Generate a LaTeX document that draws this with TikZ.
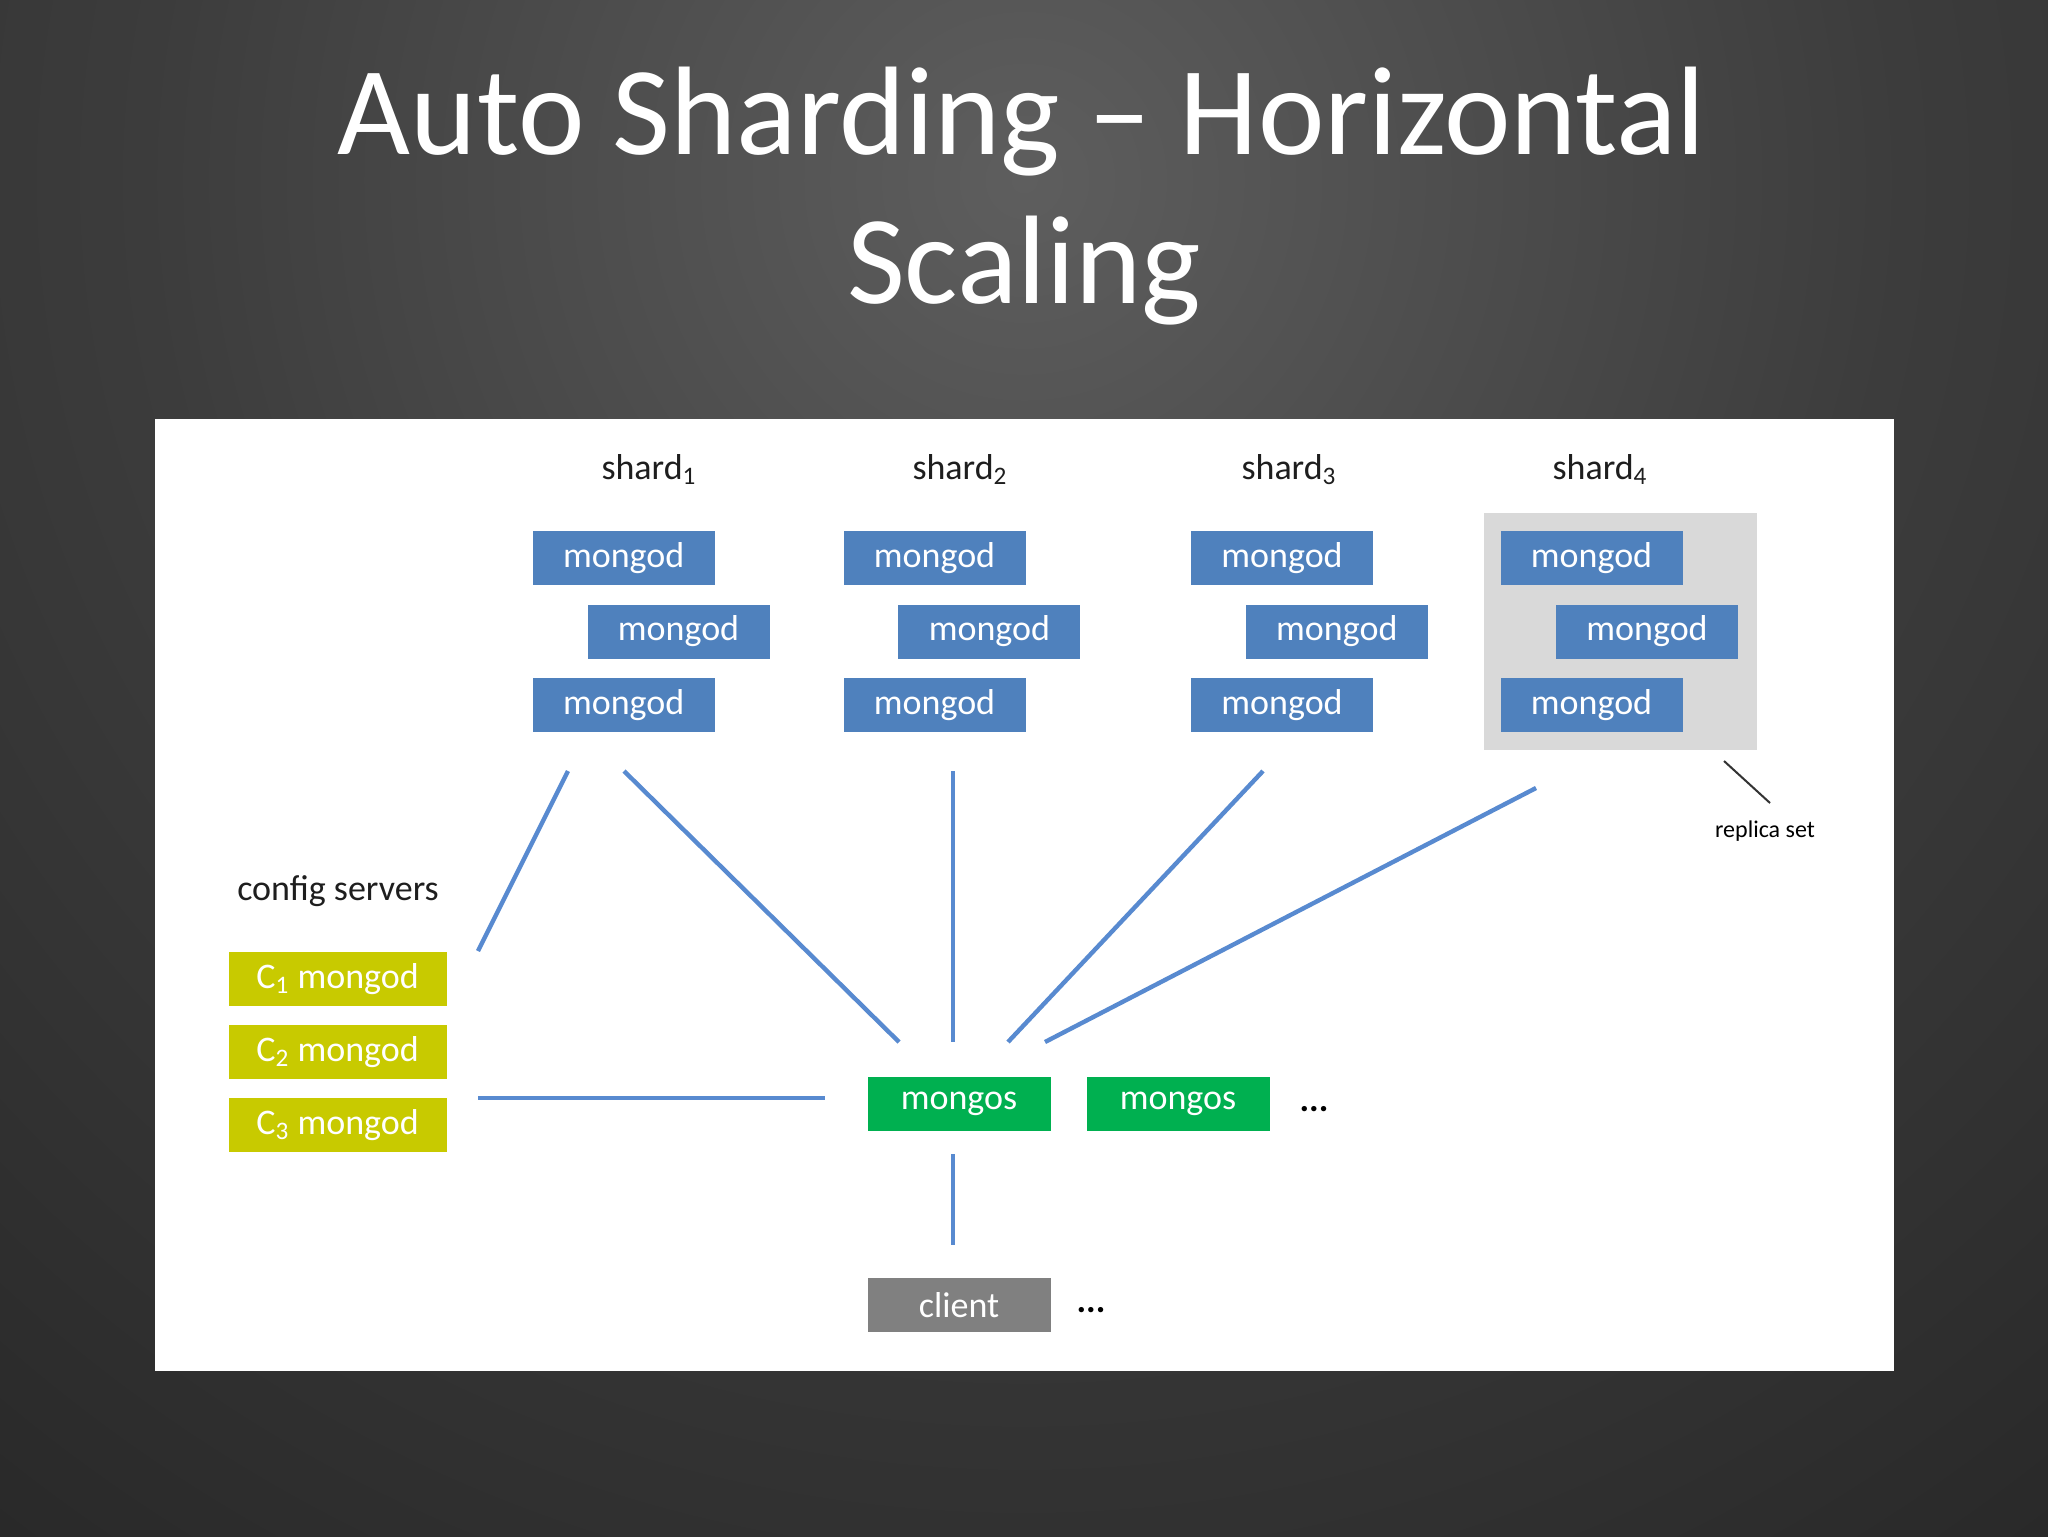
\documentclass[tikz,border=0pt]{standalone}
\usepackage{fontspec}
\setmainfont{Carlito}
\definecolor{mblue}{RGB}{79,129,189}
\definecolor{lblue}{RGB}{88,138,208}
\definecolor{cgreen}{RGB}{0,176,80}
\definecolor{cyel}{RGB}{200,202,0}
\definecolor{cgray}{RGB}{128,128,128}
\definecolor{rsgray}{RGB}{217,217,217}
\definecolor{bgA}{RGB}{94,94,94}
\definecolor{bgB}{RGB}{60,60,60}
\definecolor{bgC}{RGB}{34,34,34}
\definecolor{labtext}{RGB}{30,30,30}
\pgfdeclareradialshading{slidebg}{\pgfpoint{0bp}{0bp}}{color(0bp)=(bgA); color(11bp)=(bgB); color(25bp)=(bgC); color(50bp)=(bgC)}
\newcommand\boxfont{\fontsize{18}{21}\selectfont}
\newcommand\titlefont{\fontsize{63}{70}\selectfont}
\begin{document}
\begin{tikzpicture}[x=0.5pt,y=-0.5pt,
  mgd/.style={fill=mblue, text=white, font=\boxfont, minimum width=91pt, minimum height=27pt, inner sep=0pt},
  cfg/.style={fill=cyel, text=white, font=\boxfont, minimum width=109pt, minimum height=27pt, inner sep=0pt},
  msb/.style={fill=cgreen, text=white, font=\boxfont, minimum width=91.5pt, minimum height=27pt, inner sep=0pt},
  clb/.style={fill=cgray, text=white, font=\boxfont, minimum width=91.5pt, minimum height=27pt, inner sep=0pt},
  lab/.style={text=labtext, font=\boxfont, anchor=base, inner sep=0pt},
  dotsl/.style={text=black, font=\boxfont\bfseries, anchor=base, inner sep=0pt},
  link/.style={draw=lblue, line width=2.2pt},
  ptr/.style={draw=black!80, line width=1pt}]
\useasboundingbox (0,0) rectangle (2048,1536);
\begin{scope}
  \clip (0,0) rectangle (2048,1536);
  \fill[bgC] (0,0) rectangle (2048,1536);
  \shade[shading=slidebg] (1024,180) circle[radius=1000pt];
\end{scope}
% title
\node[text=white, font=\titlefont, anchor=base, inner sep=0pt] (t1) at (1022,155) {Auto Sharding – Horizontal};
\node[text=white, font=\titlefont, anchor=base, inner sep=0pt] (t2) at (1024,303) {Scaling};
% panel
\node[fill=white, minimum width=869.5pt, minimum height=476pt, inner sep=0pt] (panel) at (1024.5,895) {};
% replica set background
\node[fill=rsgray, minimum width=136.5pt, minimum height=118.2pt, inner sep=0pt] (rs) at (1620.2,631.5) {};
% shard labels
\node[lab] (h1) at (649,479) {shard\textsubscript{1}};
\node[lab] (h2) at (960,479) {shard\textsubscript{2}};
\node[lab] (h3) at (1289,479) {shard\textsubscript{3}};
\node[lab] (h4) at (1600,479) {shard\textsubscript{4}};
% shards
\node[mgd] (s1a) at (623.7,558.4) {mongod};
\node[mgd] (s1b) at (678.5,631.5) {mongod};
\node[mgd] (s1c) at (623.7,704.6) {mongod};
\node[mgd] (s2a) at (934.5,558.4) {mongod};
\node[mgd] (s2b) at (989.4,631.5) {mongod};
\node[mgd] (s2c) at (934.5,704.6) {mongod};
\node[mgd] (s3a) at (1282,558.4) {mongod};
\node[mgd] (s3b) at (1336.8,631.5) {mongod};
\node[mgd] (s3c) at (1282,704.6) {mongod};
\node[mgd] (s4a) at (1591.5,558.4) {mongod};
\node[mgd] (s4b) at (1647,631.5) {mongod};
\node[mgd] (s4c) at (1591.5,704.6) {mongod};
% replica set label
\node[text=black, font=\fontsize{12}{14}\selectfont, anchor=base, inner sep=0pt] (rsl) at (1765,837) {replica set};
% config servers
\node[lab] (cfgl) at (338,900) {config servers};
\node[cfg] (c1) at (337.6,979) {C\textsubscript{1} mongod};
\node[cfg] (c2) at (337.6,1052) {C\textsubscript{2} mongod};
\node[cfg] (c3) at (337.6,1125) {C\textsubscript{3} mongod};
% mongos
\node[msb] (m1) at (959,1103.5) {mongos};
\node[msb] (m2) at (1178,1103.5) {mongos};
\node[dotsl] (d1) at (1314,1111) {...};
% client
\node[clb] (cl) at (959,1305) {client};
\node[dotsl] (d2) at (1091,1312) {...};
% connector end points
\coordinate (a1) at (568,771);  \coordinate (b1) at (478,951);
\coordinate (a2) at (624,771);  \coordinate (b2) at (899,1042);
\coordinate (a3) at (953,771);  \coordinate (b3) at (953,1042);
\coordinate (a4) at (1263,771); \coordinate (b4) at (1008,1042);
\coordinate (a5) at (1536,788); \coordinate (b5) at (1045,1042);
\coordinate (a6) at (478,1098); \coordinate (b6) at (825,1098);
\coordinate (a7) at (953,1154); \coordinate (b7) at (953,1245);
\coordinate (p1) at (1724,761); \coordinate (p2) at (1770,803);
\draw[link] (a1) -- (b1);
\draw[link] (a2) -- (b2);
\draw[link] (a3) -- (b3);
\draw[link] (a4) -- (b4);
\draw[link] (a5) -- (b5);
\draw[link] (a6) -- (b6);
\draw[link] (a7) -- (b7);
\draw[ptr] (p1) -- (p2);
\end{tikzpicture}
\end{document}
